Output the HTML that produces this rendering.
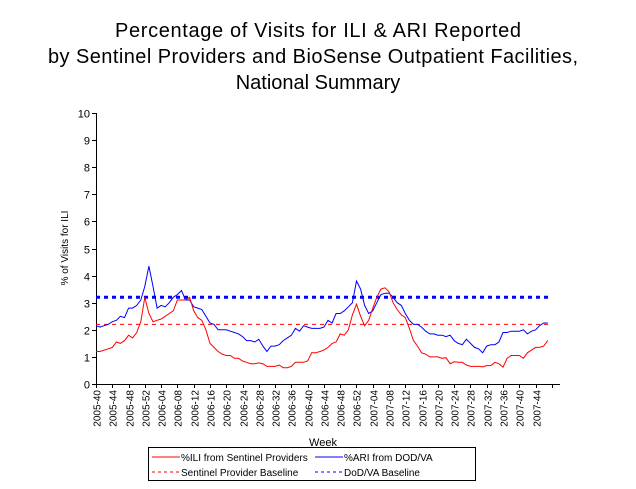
<!DOCTYPE html>
<html><head><meta charset="utf-8"><style>
html,body{margin:0;padding:0;background:#fff}
svg{display:block;font-family:"Liberation Sans",Arial,sans-serif}
</style></head><body>
<svg id="chart" width="636" height="489" viewBox="0 0 636 489" xmlns="http://www.w3.org/2000/svg">
<g font-size="20" text-anchor="middle" fill="#000">
<text x="318" y="37" textLength="406">Percentage of Visits for ILI &amp; ARI Reported</text>
<text x="313" y="63" textLength="530">by Sentinel Providers and BioSense Outpatient Facilities,</text>
<text x="318" y="89">National Summary</text>
</g>
<text transform="translate(68,248) rotate(-90)" font-size="10" text-anchor="middle">% of Visits for ILI</text>
<text x="323" y="446" font-size="11" text-anchor="middle">Week</text>
<g id="axes"></g>
<g id="marks"></g>
<g>
<rect x="148.5" y="447.5" width="327" height="33" fill="#fff" stroke="#000"/>
<line x1="152" y1="457" x2="180" y2="457" stroke="#f00" stroke-width="1"/>
<text x="181" y="461" font-size="10">%ILI from Sentinel Providers</text>
<line x1="315" y1="457" x2="343" y2="457" stroke="#00f" stroke-width="1"/>
<text x="344" y="461" font-size="10">%ARI from DOD/VA</text>
<line x1="152" y1="472" x2="180" y2="472" stroke="#f00" stroke-dasharray="3,3"/>
<text x="181" y="476" font-size="10">Sentinel Provider Baseline</text>
<line x1="315" y1="472" x2="343" y2="472" stroke="#00f" stroke-dasharray="3,3"/>
<text x="344" y="476" font-size="10">DoD/VA Baseline</text>
</g>
</svg>
<script>
const iliValues=[1.2,1.2,1.25,1.3,1.35,1.55,1.5,1.6,1.8,1.7,1.9,2.3,3.2,
2.6,2.3,2.35,2.4,2.5,2.6,2.7,3.1,3.1,3.1,3.2,2.7,2.45,2.35,2.0,1.5,1.35,1.2,1.1,1.05,1.05,0.95,0.95,0.85,0.8,0.75,0.75,0.78,0.75,0.65,0.65,0.65,0.7,0.6,0.6,0.65,0.8,0.8,0.8,0.85,1.15,1.15,1.2,1.25,1.35,1.5,1.55,1.85,1.8,2.0,2.55,2.95,
2.5,2.15,2.35,2.8,3.2,3.5,3.55,3.4,3.0,2.75,2.55,2.45,2.05,1.6,1.4,1.15,1.1,1.0,1.0,1.0,0.95,0.97,0.75,0.82,0.8,0.8,0.7,0.65,0.65,0.65,0.63,0.68,0.68,0.8,0.75,0.62,0.95,1.05,1.05,1.05,0.95,1.15,1.25,1.35,1.35,1.4,1.6];
const ariValues=[2.15,2.1,2.15,2.2,2.3,2.35,2.5,2.45,2.8,2.8,2.9,3.1,3.6,
4.35,3.6,2.8,2.9,2.85,3.0,3.2,3.3,3.45,3.1,3.1,2.85,2.8,2.75,2.5,2.25,2.2,2.0,2.0,2.0,1.95,1.9,1.85,1.75,1.6,1.6,1.55,1.65,1.4,1.2,1.4,1.4,1.45,1.6,1.7,1.8,2.05,1.95,2.15,2.1,2.05,2.05,2.05,2.1,2.35,2.25,2.6,2.6,2.7,2.85,3.0,3.8,
3.5,2.9,2.6,2.7,3.0,3.3,3.35,3.35,3.2,3.0,2.9,2.6,2.35,2.2,2.2,2.1,1.95,1.85,1.85,1.8,1.8,1.75,1.8,1.6,1.5,1.45,1.65,1.5,1.35,1.3,1.15,1.4,1.45,1.45,1.55,1.9,1.9,1.95,1.95,1.95,2.0,1.85,1.95,2.0,2.15,2.25,2.25];
const iliBaseline=[2.2];
const ariBaseline=[3.2];
const tickLabels=["2005-40","2005-44","2005-48","2005-52","2006-04","2006-08","2006-12","2006-16","2006-20","2006-24","2006-28","2006-32","2006-36","2006-40","2006-44","2006-48","2006-52","2007-04","2007-08","2007-12","2007-16","2007-20","2007-24","2007-28","2007-32","2007-36","2007-40","2007-44"];
const yTicks=[0,1,2,3,4,5,6,7,8,9,10];

const NS="http://www.w3.org/2000/svg";
const X0=96,X1=560,Y0=384,Y1=113,NCAT=114;
const xs=i=>X0+i*(X1-X0)/NCAT;
const ys=v=>Y0-(v/10)*(Y0-Y1);
const axes=document.getElementById('axes'),marks=document.getElementById('marks');
function mk(tag,attrs,parent){const e=document.createElementNS(NS,tag);for(const k in attrs)e.setAttribute(k,attrs[k]);parent.appendChild(e);return e;}
let a=mk('line',{x1:X0+0.5,y1:Y1,x2:X0+0.5,y2:Y0,stroke:'#000'},axes);


a=mk('line',{x1:X0,y1:Y0+0.5,x2:X1,y2:Y0+0.5,stroke:'#000'},axes);


yTicks.forEach(v=>{const y=Math.round(ys(v))+0.5;
 mk('line',{x1:X0-4,y1:y,x2:X0,y2:y,stroke:'#000'},axes);
 const t=mk('text',{x:X0-6,y:y+4,'font-size':11,'text-anchor':'end'},axes);t.textContent=v;
 
 
});
for(let k=0;k<=NCAT/4;k++){const x=Math.round(xs(k*4))+0.5;
 mk('line',{x1:x,y1:Y0,x2:x,y2:Y0+4,stroke:'#000'},axes);
 if(k<tickLabels.length){const t=mk('text',{transform:`translate(${x+4},${Y0+6}) rotate(-90)`,'font-size':10,'text-anchor':'end'},axes);t.textContent=tickLabels[k];
 
 }
}
const bEnd=xs(ariValues.length-1)+2;
let b=mk('line',{x1:X0,y1:ys(iliBaseline[0]),x2:bEnd,y2:ys(iliBaseline[0]),stroke:'#f00','stroke-dasharray':'4,4'},marks);


b=mk('line',{x1:X0,y1:ys(ariBaseline[0]),x2:bEnd,y2:ys(ariBaseline[0]),stroke:'#00f','stroke-width':3,'stroke-dasharray':'4,4'},marks);


function line(vals,color,name){const p=mk('polyline',{points:vals.map((v,i)=>xs(i).toFixed(1)+','+ys(v).toFixed(1)).join(' '),fill:'none',stroke:color,'stroke-width':1},marks);
 
 }
line(ariValues,'#00f','ari-dodva-line');
line(iliValues,'#f00','ili-sentinel-line');
</script>
</body></html>
